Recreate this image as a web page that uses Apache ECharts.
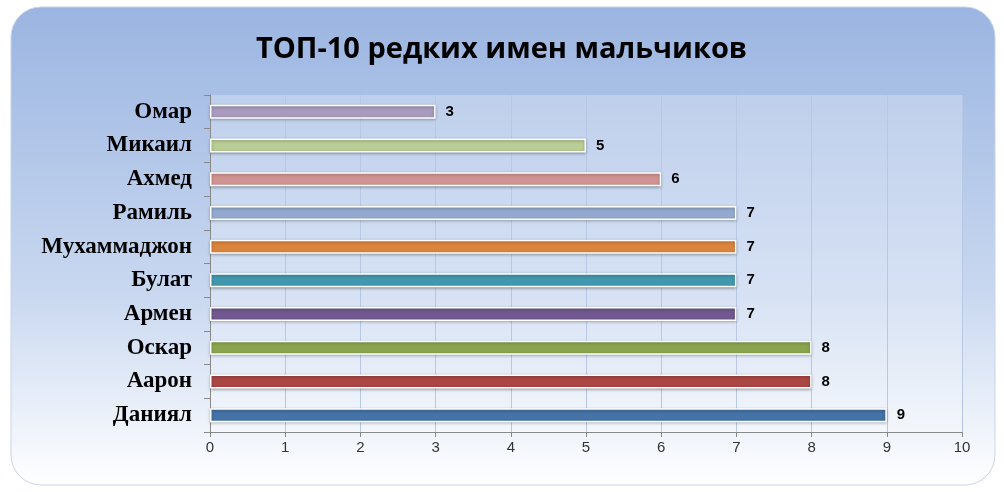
<!DOCTYPE html>
<html><head><meta charset="utf-8">
<script src="https://cdn.jsdelivr.net/npm/echarts@6/dist/echarts.min.js"></script>
<style>html,body{margin:0;padding:0;background:#fff}#c{width:1003px;height:493px}</style>
</head><body><div id="c"></div>
<script>
const categories = ['Даниял','Аарон','Оскар','Армен','Булат','Мухаммаджон','Рамиль','Ахмед','Микаил','Омар'];
const values = [9,8,8,7,7,7,7,6,5,3];
const colors = ['#4572A7','#AA4643','#89A54E','#71588F','#4198AF','#DB843D','#93A9CF','#D19392','#B9CD96','#A99BBD'];
const xTicks = [0,1,2,3,4,5,6,7,8,9,10];
const chart = echarts.init(document.getElementById('c'));
chart.setOption({
  animation:false,
  graphic:[{type:'rect',z:-10,shape:{x:11,y:7,width:984,height:478,r:30},
    style:{fill:new echarts.graphic.LinearGradient(0,0,0,1,[{offset:0,color:'#9bb5e1'},{offset:0.6,color:'#c9d8f0'},{offset:1,color:'#ffffff'}]),stroke:'#c8d4e8'}}],
  title:{text:'ТОП-10 редких имен мальчиков',left:'center',top:30,
    textStyle:{fontFamily:'Open Sans',fontWeight:'bold',fontSize:29,color:'#000'}},
  grid:{left:210,right:41,top:95,bottom:61,backgroundColor:'rgba(255,255,255,0.25)',show:true,borderWidth:0},
  xAxis:{type:'value',min:0,max:10,interval:1,
    axisLine:{show:true,lineStyle:{color:'#888'}},axisTick:{show:true,length:5,lineStyle:{color:'#888'}},
    splitLine:{lineStyle:{color:'#b8c8e4'}},
    axisLabel:{color:'#333',fontSize:15,fontFamily:'Liberation Sans',formatter:v=>xTicks.includes(v)?String(v):''}},
  yAxis:{type:'category',data:categories,
    axisLine:{show:true,lineStyle:{color:'#888'}},axisTick:{show:true,length:6,lineStyle:{color:'#888'}},
    axisLabel:{color:'#000',fontSize:23,fontWeight:'bold',fontFamily:'Liberation Serif',margin:18}},
  series:[{type:'bar',data:values.map((v,i)=>({value:v,itemStyle:{color:colors[i]}})),
    barWidth:14,itemStyle:{borderColor:'#fff',borderWidth:1.5,shadowColor:'rgba(0,0,0,0.3)',shadowBlur:3,shadowOffsetY:1},
    label:{show:true,position:'right',distance:10,fontSize:15,fontWeight:'bold',color:'#000',fontFamily:'Liberation Sans'}}]
});
</script></body></html>
